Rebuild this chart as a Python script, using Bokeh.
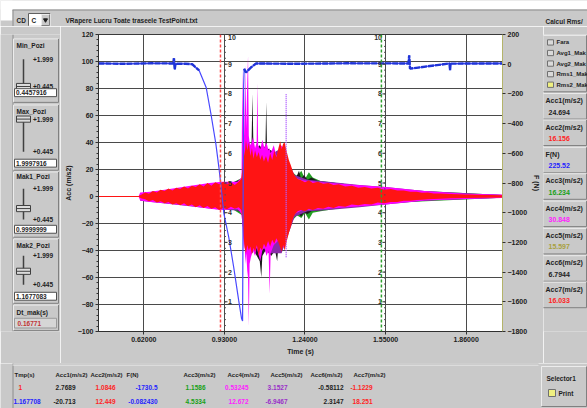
from bokeh.plotting import figure
from bokeh.models import Range1d, LinearAxis, FixedTicker, PrintfTickFormatter, Span
from bokeh.layouts import column, row
from bokeh.embed import file_html
from bokeh.resources import INLINE
from bokeh.core.properties import value

# ------------------------------------------------------------------ data
time_min = 0.4457916
time_max = 1.9997916
time_ticks = [0.62, 0.93, 1.24, 1.55, 1.86]
acc_ticks = [-100, -80, -60, -40, -20, 0, 20, 40, 60, 80, 100, 120]
acc_minor = list(range(-100, 121, 4))
force_ticks = [-1800, -1600, -1400, -1200, -1000, -800, -600, -400, -200, 0, 200]
mark_ticks = [1, 2, 3, 4, 5, 6, 7, 8, 9, 10]

# F(N) (blue, right axis)
force_t = [0.4458, 0.55, 0.65, 0.733, 0.736, 0.739, 0.742, 0.78, 0.806, 0.833, 0.86, 0.878,
           0.897, 0.909, 0.92, 0.928, 0.947, 0.966, 0.985, 0.996, 1.000, 1.004, 1.006, 1.013,
           1.032, 1.052, 1.20, 1.40, 1.638, 1.641, 1.644, 1.796, 1.798, 1.80, 1.9998]
force_v = [5, 3, 6, 5, 40, -35, 4, 3, 0, -42, -157, -332,
           -534, -696, -871, -1005, -1167, -1369, -1591, -1712, -1730, -164, -30, -56,
           -22, 5, 3, 6, 5, 60, -30, 5, -40, 4, 5]

# acceleration envelopes (time, upper, lower) in m/s2
red_env = [(0.4458, 0.4, -0.4), (0.600, 0.4, -0.4), (0.612, 1.5, -1.5), (0.625, 3, -2),
           (0.640, 2, -3.5), (0.655, 4, -2.5), (0.670, 3, -4.5), (0.685, 5, -3.5),
           (0.700, 4, -5), (0.715, 6, -4), (0.730, 4.5, -6), (0.745, 6.5, -5),
           (0.760, 5.5, -6.5), (0.775, 7.5, -5), (0.790, 6, -7), (0.805, 8, -6),
           (0.820, 7, -8), (0.835, 9, -6.5), (0.850, 7.5, -8.5), (0.865, 10, -7),
           (0.880, 8, -9), (0.895, 10.5, -8), (0.910, 9, -10), (0.925, 11, -8.5),
           (0.940, 9, -9.5), (0.955, 10.5, -7.5), (0.970, 8.5, -9), (0.985, 11, -8),
           (0.995, 13, -10), (1.000, 22, -18),
           (1.004, 38, -30), (1.008, 30, -38), (1.013, 42, -42), (1.018, 34, -36),
           (1.024, 40, -40), (1.030, 30, -37), (1.036, 36, -43), (1.042, 28, -38),
           (1.048, 34, -41), (1.055, 29, -36), (1.062, 33, -44), (1.068, 27, -38),
           (1.075, 31, -40), (1.082, 26, -35), (1.090, 30, -38), (1.098, 25, -33),
           (1.106, 32, -37), (1.114, 27, -32), (1.122, 34, -35), (1.130, 29, -31),
           (1.138, 36, -34), (1.145, 41, -38), (1.150, 35, -41), (1.156, 39, -36),
           (1.162, 40, -40), (1.170, 33, -33), (1.178, 27, -27), (1.186, 23, -22),
           (1.194, 18, -16), (1.202, 15, -13), (1.212, 13, -11), (1.225, 12, -10),
           (1.240, 10.5, -11), (1.255, 12, -9), (1.270, 10, -10), (1.290, 11, -8.5),
           (1.310, 9.5, -9), (1.330, 10, -7.5), (1.350, 8.5, -8.5), (1.370, 9, -7),
           (1.395, 7.5, -7.5), (1.420, 8, -6), (1.445, 6.5, -6.5), (1.470, 7, -5.5),
           (1.495, 6, -6), (1.520, 6.5, -4.5), (1.545, 5, -5), (1.570, 5.5, -4),
           (1.595, 4.5, -4), (1.620, 4.5, -3.2), (1.645, 3.5, -3.2), (1.670, 3.5, -2.5),
           (1.690, 2.8, -2.4), (1.713, 3, -2), (1.735, 2.3, -1.9), (1.760, 2.2, -1.6),
           (1.800, 1.8, -1.3), (1.855, 1.4, -1.1), (1.9998, 1.0, -0.8)]

magenta_env = [(0.600, 0, 0), (0.606, 3, -3), (0.644, 3.5, -4), (0.700, 5, -5),
               (0.800, 8, -7), (0.873, 10, -9), (0.919, 11, -10), (0.980, 11, -9),
               (0.996, 14, -13), (0.999, 95, -20), (1.002, 40, -30), (1.005, 90, -40),
               (1.008, 45, -35), (1.011, 98, -50), (1.014, 50, -42), (1.018, 85, -55),
               (1.021, 104, -60), (1.024, 45, -96), (1.027, 40, -50), (1.032, 38, -45),
               (1.040, 44, -40), (1.048, 36, -44), (1.054, 40, -38), (1.057, 84, -40),
               (1.060, 38, -42), (1.068, 35, -48), (1.076, 42, -40), (1.084, 36, -38),
               (1.092, 40, -44), (1.100, 34, -40), (1.104, 36, -72), (1.108, 32, -42),
               (1.120, 38, -36), (1.130, 30, -34), (1.140, 34, -32), (1.150, 38, -36),
               (1.160, 34, -38), (1.170, 28, -30), (1.185, 20, -20), (1.200, 14, -13),
               (1.230, 12, -10), (1.300, 10.5, -9.5), (1.400, 9, -8), (1.550, 7, -6),
               (1.700, 4, -3), (1.855, 2, -1.8), (1.9998, 1.4, -1.2)]

black_env = [(0.610, 1.5, -1.5), (0.800, 6.5, -6), (0.950, 9.5, -8), (0.998, 13, -12),
             (1.004, 25, -25), (1.020, 32, -42), (1.034, 34, -40), (1.038, 76, -42),
             (1.042, 34, -40), (1.055, 36, -44), (1.066, 38, -48), (1.072, 36, -60),
             (1.076, 34, -44), (1.088, 38, -40), (1.091, 70, -42), (1.094, 36, -40),
             (1.110, 34, -44), (1.125, 32, -40), (1.133, 34, -48), (1.138, 30, -36),
             (1.160, 36, -34), (1.180, 22, -24), (1.200, 14, -14), (1.210, 16, -14),
             (1.217, 19, -13), (1.225, 13, -15), (1.236, 16, -12), (1.250, 12.5, -13),
             (1.265, 14, -11), (1.290, 11.5, -10.5), (1.330, 10.5, -9.5), (1.400, 9, -8),
             (1.500, 7, -6.5), (1.600, 5, -4.5), (1.700, 3.5, -3), (1.855, 1.8, -1.5),
             (1.9998, 1.2, -1)]

green_env = [(0.610, 1.5, -1.5), (0.950, 9, -8), (1.000, 14, -14), (1.100, 30, -30),
             (1.180, 20, -20), (1.210, 15, -14), (1.226, 19, -16), (1.240, 13, -12),
             (1.255, 18, -17), (1.270, 14, -12), (1.300, 11.5, -11), (1.400, 9, -8),
             (1.600, 5, -4.5), (1.9998, 1.2, -1)]

purple_env = [(0.606, 2.5, -3.2), (0.900, 9.5, -9.5), (0.995, 11, -10.5), (1.000, 20, -22),
              (1.100, 30, -42), (1.150, 36, -42), (1.200, 16, -15), (1.250, 12.5, -11),
              (1.330, 11, -10), (1.450, 8.5, -8), (1.550, 7, -6), (1.700, 4, -3.2),
              (1.9998, 1.2, -1)]

cursor1_t = 0.915
cursor2_t = 1.534
cursor_axes_t = [0.93, 1.55]
mark2_t = 1.167708
mark2_spike = (-45, 76)

slider_names = ["Min_Pozi", "Max_Pozi", "Mak1_Pozi", "Mak2_Pozi"]
slider_values = [0.4457916, 1.9997916, 0.9999999, 1.1677083]
slider_texts = ["0.4457916", "1.9997916", "0.9999999", "1.1677083"]
slider_scale = (0.4457916, 1.9997916)
slider_scale_texts = ["+1.999", "+0.445"]
dt_label, dt_value = "Dt_mak(s)", "0.16771"

check_names = ["Fara", "Avg1_Mak", "Avg2_Mak", "Rms1_Mak", "Rms2_Mak"]
check_on = [False, False, False, False, True]

ind_names = ["Acc1(m/s2)", "Acc2(m/s2)", "F(N)", "Acc3(m/s2)", "Acc4(m/s2)",
             "Acc5(m/s2)", "Acc6(m/s2)", "Acc7(m/s2)"]
ind_values = ["24.694", "16.156", "225.52", "16.234", "30.848", "15.597", "6.7944", "16.033"]

table_cols = ["Tmp(s)", "Acc1(m/s2)", "Acc2(m/s2)", "F(N)", "Acc3(m/s2)", "Acc4(m/s2)",
              "Acc5(m/s2)", "Acc6(m/s2)", "Acc7(m/s2)"]
table_row1 = ["1", "2.7689", "1.0846", "-1730.5", "1.1586", "0.53245", "3.1527", "-0.58112", "-1.1229"]
table_row2 = ["1.167708", "-20.713", "12.449", "-0.082430", "4.5334", "12.672", "-6.9467", "2.3147", "18.251"]

# ------------------------------------------------------------------ style
BG = "#c9c9c9"
DARK = "#1e1e1e"
RED_T, BLUE_T, GREEN_T, MAG_T, PUR_T, OLI_T = "#ff2424", "#2424ff", "#17a017", "#ff22ff", "#9a30c8", "#a8a040"
FONT = value("Liberation Sans")


def pixel_fig(x0, x1, y0, y1):
    f = figure(width=x1 - x0, height=y1 - y0, x_range=Range1d(x0, x1), y_range=Range1d(y1, y0),
               output_backend="svg", toolbar_location=None, x_axis_location=None,
               y_axis_location=None, min_border=0, background_fill_color=BG,
               border_fill_color=BG, outline_line_color=None)
    f.grid.visible = False
    return f


def txt(f, xs, ys, texts, colors=DARK, size="6.5px", align="left", bold=True, baseline="middle"):
    f.text(x=xs, y=ys, text=texts, text_color=colors, text_font=FONT, text_font_size=size,
           text_font_style="bold" if bold else "normal", text_align=align,
           text_baseline=baseline)


def box(f, l, r, t, b, fill=BG, hi="#ececec", lo="#808080"):
    f.quad(left=[l], right=[r], top=[t], bottom=[b], fill_color=fill, line_color=None)
    f.segment(x0=[l, l], y0=[t, t], x1=[r, l], y1=[t, b], line_color=hi, line_width=1)
    f.segment(x0=[r, l], y0=[t, b], x1=[r, r], y1=[b, b], line_color=lo, line_width=1)


# ------------------------------------------------------------------ top strip
top = pixel_fig(0, 587, 0, 26)
top.quad(left=[0, 0], right=[587, 12], top=[0, 0], bottom=[9, 20], fill_color="white",
         line_color=None)
top.segment(x0=[12, 12.5], x1=[587, 12.5], y0=[9.5, 9.5], y1=[9.5, 26], line_color="#8c8c8c")
txt(top, [16], [19.5], ["CD"])
box(top, 28, 50, 13, 25.5, fill="white", hi="#606060", lo="#e0e0e0")
txt(top, [31], [19.5], ["C"])
box(top, 41, 49, 14, 25)
top.scatter(x=[45], y=[19.5], marker="inverted_triangle", size=4, color=DARK)
txt(top, [65], [19.5], ["VRapere Lucru Toate traseele TestPoint.txt"])
txt(top, [545], [21], ["Calcul Rms/"])

# ------------------------------------------------------------------ left panel
left = pixel_fig(0, 60, 26, 363)
left.segment(x0=[12.5], x1=[12.5], y0=[26], y1=[363], line_color="#8c8c8c")
panel_tops = [31, 106, 182, 258]
panel_bots = [103, 180, 256, 331]
label_y = [38, 113, 187, 265]
max_y = [54, 122, 201, 277]
min_y = [85, 159, 236, 310]
num_y = [92, 172, 247, 323]
for i in range(4):
    box(left, 13, 58, panel_tops[i], panel_bots[i])
    txt(left, [16], [label_y[i]], [slider_names[i]])
    left.segment(x0=[23], x1=[23], y0=[max_y[i]], y1=[min_y[i]], line_color="#404040", line_width=1.5)
    frac = (slider_values[i] - slider_scale[0]) / (slider_scale[1] - slider_scale[0])
    ty = min_y[i] - frac * (min_y[i] - max_y[i])
    left.quad(left=[16], right=[30], top=[ty - 3.5], bottom=[ty + 3.5], fill_color="#dcdcdc",
              line_color="#404040", line_width=1)
    left.segment(x0=[16], x1=[30], y0=[ty], y1=[ty], line_color="#404040", line_width=1)
    txt(left, [32.5, 32.5], [max_y[i], min_y[i]], slider_scale_texts)
    left.quad(left=[14], right=[56], top=[num_y[i] - 4.5], bottom=[num_y[i] + 4.5],
              fill_color="white", line_color="#505050", line_width=1)
    txt(left, [15.5], [num_y[i]], [slider_texts[i]])
box(left, 13, 58, 333, 362)
txt(left, [16], [341], [dt_label])
left.quad(left=[14], right=[56], top=[348], bottom=[359], fill_color="#d6d6d6",
          line_color="#9a9a9a", line_width=1)
txt(left, [17], [354], [dt_value], colors="#c03434")

# ------------------------------------------------------------------ right panel
right = pixel_fig(543, 587, 26, 363)
box(right, 542, 586, 27, 91)
check_y = [35, 47, 59, 71, 83]
right.quad(left=[547] * 5, right=[553] * 5, top=[y - 3 for y in check_y],
           bottom=[y + 3 for y in check_y],
           fill_color=["#f0f080" if c else "#dadada" for c in check_on],
           line_color="#707070", line_width=1)
txt(right, [556] * 5, check_y, check_names, size="6px")
ind_tops = [93, 123, 154, 184, 215, 246, 277, 307]
ind_colors = [DARK, RED_T, BLUE_T, GREEN_T, MAG_T, OLI_T, DARK, RED_T]
for i in range(8):
    box(right, 542, 586, ind_tops[i], ind_tops[i] + 29)
txt(right, [545] * 8, [t + 8 for t in ind_tops], ind_names, size="7px")
txt(right, [548] * 8, [t + 21 for t in ind_tops], ind_values, colors=ind_colors, size="7px")

# ------------------------------------------------------------------ bottom table
bottom = pixel_fig(0, 587, 363, 408)
bottom.segment(x0=[12.5], x1=[12.5], y0=[363], y1=[408], line_color="#8c8c8c")
bottom.segment(x0=[12], x1=[538], y0=[363.5], y1=[363.5], line_color="#8a8a8a")
bottom.segment(x0=[12], x1=[538], y0=[364.5], y1=[364.5], line_color="#f0f0f0")
head_x = [14, 55, 90, 126, 183, 227, 270, 310, 353]
val_right = [75, 115, 157, 205, 248, 287, 343, 372]
col_colors = [DARK, RED_T, BLUE_T, GREEN_T, MAG_T, PUR_T, DARK, RED_T]
txt(bottom, head_x, [374] * 9, table_cols, size="6px")
txt(bottom, [18], [387], [table_row1[0]], colors=RED_T, size="6.5px")
txt(bottom, [13], [401], [table_row2[0]], colors=BLUE_T, size="6.5px")
txt(bottom, val_right, [387] * 8, table_row1[1:], colors=col_colors, size="6.5px", align="right")
txt(bottom, val_right, [401] * 8, table_row2[1:], colors=col_colors, size="6.5px", align="right")
box(bottom, 541, 586, 366, 406)
txt(bottom, [546], [378], ["Selector1"], size="6.5px")
bottom.quad(left=[548], right=[555], top=[389], bottom=[396], fill_color="#f0f080",
            line_color="#707070")
txt(bottom, [558], [392.5], ["Print"], size="6.5px")

# ------------------------------------------------------------------ main chart
p = figure(width=483, height=337, x_range=Range1d(time_min, time_max), y_range=Range1d(-100, 120),
           output_backend="svg", toolbar_location=None, min_border_left=38, min_border_right=38,
           min_border_top=8, min_border_bottom=32, background_fill_color="white",
           border_fill_color=BG, outline_line_color="#3a3a3a")
p.extra_y_ranges = {"force": Range1d(-1800, 200), "mark": Range1d(0, 10)}

xa = p.xaxis[0]
xa.ticker = FixedTicker(ticks=time_ticks)
xa.formatter = PrintfTickFormatter(format="%.5f")
xa.axis_label = "Time (s)"
ya = p.yaxis[0]
ya.ticker = FixedTicker(ticks=acc_ticks, minor_ticks=acc_minor)
ya.axis_label = "Acc (m/s2)"
ra = LinearAxis(y_range_name="force", ticker=FixedTicker(ticks=force_ticks), axis_label="F (N)")
p.add_layout(ra, "right")
for ax in (xa, ya, ra):
    ax.major_label_text_font = "Liberation Sans"
    ax.major_label_text_font_size = "7px"
    ax.major_label_text_font_style = "bold"
    ax.major_label_text_color = "#202020"
    ax.axis_label_text_font = "Liberation Sans"
    ax.axis_label_text_font_size = "7px"
    ax.axis_label_text_font_style = "bold"
    ax.axis_label_text_color = "#202020"
    ax.axis_label_standoff = 3
    ax.major_label_standoff = 2
    ax.major_tick_out = 3
    ax.major_tick_in = 0
    ax.minor_tick_out = 2
    ax.minor_tick_in = 0
    ax.axis_line_color = "#303030"
    ax.major_tick_line_color = "#303030"
    ax.minor_tick_line_color = "#303030"
ra.axis_line_color = "#b4b46a"
xa.minor_tick_line_color = None
ra.minor_tick_line_color = None
p.grid.grid_line_color = "#4a4a4a"
p.grid.grid_line_width = 1

for env, color in ((green_env, "#22a022"), (black_env, "#1c1c1c"), (purple_env, "#8a2ca8"),
                   (magenta_env, "#ff00ff"), (red_env, "#ff1414")):
    et = [e[0] for e in env]
    p.varea(x=et, y1=[e[1] for e in env], y2=[e[2] for e in env], fill_color=color)

p.segment(x0=[mark2_t], x1=[mark2_t], y0=[mark2_spike[0]], y1=[mark2_spike[1]],
          line_color="#b060ff", line_dash="1 1", line_width=1.5)

p.line(force_t, force_v, y_range_name="force", line_color="#4848ff", line_width=1.2)
runs, cur = [], []
for t, v in zip(force_t, force_v):
    if abs(v) < 80:
        cur.append((t, v))
    else:
        if len(cur) > 1:
            runs.append(cur)
        cur = []
if len(cur) > 1:
    runs.append(cur)
p.multi_line(xs=[[a for a, _ in r] for r in runs], ys=[[b for _, b in r] for r in runs],
             y_range_name="force", line_color="#1f34d6", line_width=2.4, line_dash="6 1")

p.add_layout(Span(location=cursor1_t, dimension="height", line_color="#ff4a4a",
                  line_dash="3 2", line_width=1.5))
p.add_layout(Span(location=cursor2_t, dimension="height", line_color="#2ea02e",
                  line_dash="3 2", line_width=1.5))

# cursor axes (1..10)
maj = list(range(0, 11))
mnr = [k / 5 for k in range(0, 51)]
a1, a2 = cursor_axes_t
p.segment(x0=[a1] * len(maj), x1=[a1 + 0.012] * len(maj), y0=maj, y1=maj,
          y_range_name="mark", line_color="#303030")
p.segment(x0=[a1] * len(mnr), x1=[a1 + 0.006] * len(mnr), y0=mnr, y1=mnr,
          y_range_name="mark", line_color="#505050")
p.segment(x0=[a2 - 0.012] * len(maj), x1=[a2] * len(maj), y0=maj, y1=maj,
          y_range_name="mark", line_color="#303030")
p.segment(x0=[a2 - 0.006] * len(mnr), x1=[a2] * len(mnr), y0=mnr, y1=mnr,
          y_range_name="mark", line_color="#505050")
for ax_t, dx, al in ((a1, 0.014, "left"), (a2, -0.014, "right")):
    p.text(x=[ax_t + dx] * 9, y=mark_ticks[:-1], text=[str(k) for k in mark_ticks[:-1]],
           y_range_name="mark", text_align=al, text_baseline="middle", text_font=FONT,
           text_font_size="7px", text_font_style="bold", text_color="#303030")
    p.text(x=[ax_t + dx], y=[mark_ticks[-1]], text=[str(mark_ticks[-1])],
           y_range_name="mark", text_align=al, text_baseline="top", text_font=FONT,
           text_font_size="7px", text_font_style="bold", text_color="#303030")

layout = column(top, row(left, p, right), bottom)
open("out.html", "w").write(file_html(layout, INLINE))
